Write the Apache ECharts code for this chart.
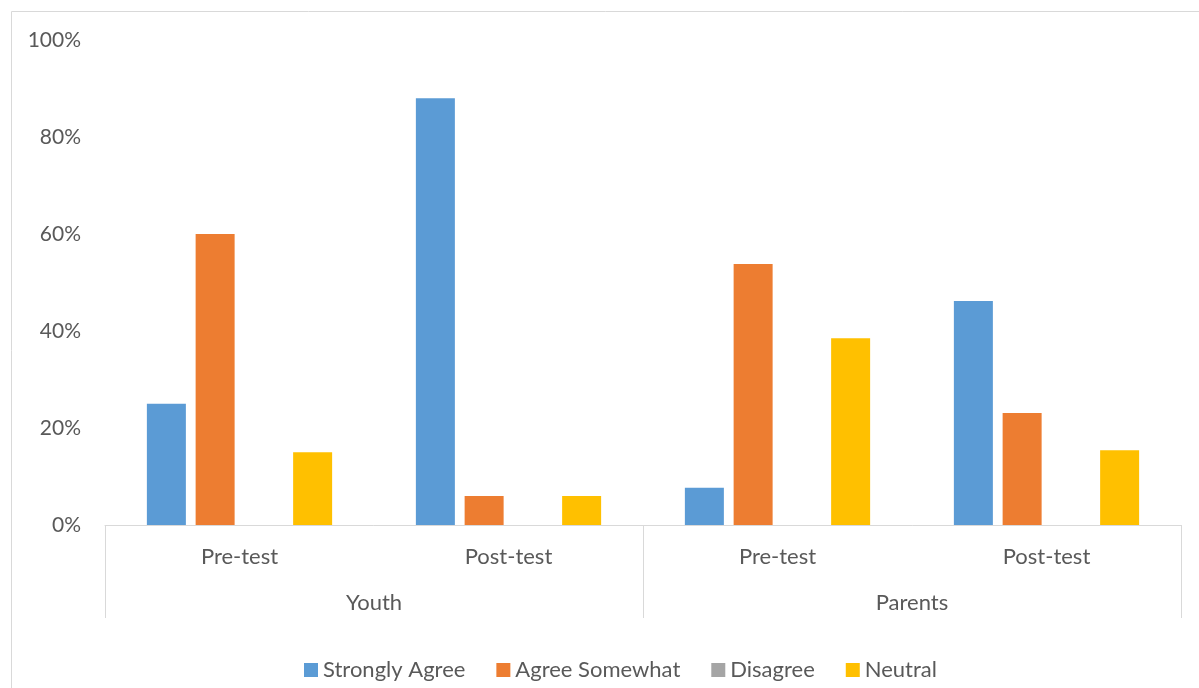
<!DOCTYPE html>
<html>
<head>
<meta charset="utf-8">
<script src="https://cdn.jsdelivr.net/npm/echarts@6/dist/echarts.min.js"></script>
<style>
  html, body { margin: 0; padding: 0; background: #fff; }
  #chart { width: 1199px; height: 688px; }
</style>
</head>
<body>
<div id="chart"></div>
<script>
// Survey responses (percent of respondents) by group and test phase
const phases = ['Pre-test', 'Post-test', 'Pre-test', 'Post-test'];
const groups = ['Youth', 'Parents'];
const seriesNames = ['Strongly Agree', 'Agree Somewhat', 'Disagree', 'Neutral'];
const stronglyAgree = [25, 88, 7.7, 46.2];
const agreeSomewhat = [60, 6, 53.8, 23.1];
const disagree = [0, 0, 0, 0];
const neutral = [15, 6, 38.5, 15.4];
const colors = ['#5B9BD5', '#ED7D31', '#A5A5A5', '#FFC000'];

const font = 'Lato, "Open Sans", sans-serif';
const textColor = '#595959';
const lineColor = '#D9D9D9';
const fontSize = 21;
const legendFontSize = 22;

const values = [stronglyAgree, agreeSomewhat, disagree, neutral];

const chart = echarts.init(document.getElementById('chart'));
chart.setOption({
  animation: false,
  textStyle: { fontFamily: font },
  graphic: [{
    type: 'rect',
    shape: { x: 11.5, y: 11.5, width: 1220, height: 700 },
    style: { fill: 'none', stroke: lineColor, lineWidth: 1 },
    silent: true
  }],
  grid: { left: 105, right: 18, top: 40, bottom: 163, containLabel: false },
  legend: {
    left: 299,
    top: 654,
    itemWidth: 14,
    itemHeight: 14,
    itemGap: 31,
    icon: 'rect',
    textStyle: { color: textColor, fontSize: legendFontSize, fontFamily: font },
    data: seriesNames
  },
  xAxis: [{
    type: 'category',
    data: phases,
    position: 'bottom',
    axisLine: { show: true, lineStyle: { color: lineColor, width: 1 } },
    axisTick: { show: false },
    axisLabel: { color: textColor, fontSize: legendFontSize, margin: 21, fontFamily: font }
  }, {
    type: 'category',
    data: groups,
    position: 'bottom',
    axisLine: { show: false },
    axisTick: { show: true, length: 93, lineStyle: { color: lineColor, width: 1 } },
    axisLabel: { color: textColor, fontSize: legendFontSize, margin: 67, fontFamily: font }
  }],
  yAxis: {
    type: 'value',
    min: 0,
    max: 100,
    interval: 20,
    axisLine: { show: false },
    axisTick: { show: false },
    splitLine: { show: false },
    axisLabel: { color: textColor, fontSize: fontSize, margin: 24, formatter: '{value}%', fontFamily: font }
  },
  series: seriesNames.map((name, i) => ({
    name: name,
    type: 'bar',
    xAxisIndex: 0,
    data: values[i],
    barWidth: 39,
    barGap: '25%',
    itemStyle: { color: colors[i] }
  }))
});
</script>
</body>
</html>
